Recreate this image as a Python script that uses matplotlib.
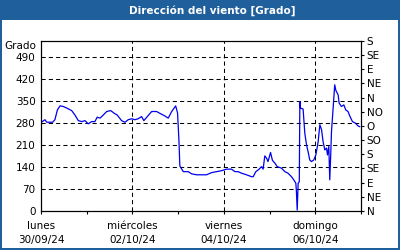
import matplotlib
matplotlib.use("Agg")
import matplotlib.pyplot as plt
from matplotlib.patches import Rectangle

# hours since 30/09/24 00:00 and wind direction in degrees
hours = [0, 2.1, 3, 6.1, 7.3, 8.6, 10, 11.7, 13.5, 16.1, 17.8, 19.6, 21.4, 23.1,
         24.8, 26.6, 28.3, 29.5, 31, 32.7, 34.5, 36.6, 38.3, 40, 42.3, 44.1,
         45.8, 47.6, 49.3, 51, 52.8, 54, 55.8, 58.1, 60.7, 62.8, 65, 66.8,
         68.6, 70.7, 71.7, 72.4, 72.9, 74.7, 77.3, 79.1, 81.7, 86.9, 89.6,
         92.2, 94.8, 97.4, 100, 101.8, 103.5, 105.3, 107.9, 110.5, 111.4,
         112.8, 114.5, 115.8, 116.6, 117.5, 118.4, 119.2, 120.5, 121.5, 122.8,
         124, 126.3, 128, 129.7, 131.5, 132.7, 133.8, 134.1, 134.5, 135,
         135.6, 135.9, 136.2, 137.6, 138.5, 139.4, 140.2, 141.1, 142, 143.2,
         144.3, 145.5, 146.4, 147.3, 148.1, 149, 149.9, 150.4, 151.1, 151.6,
         152.1, 152.5, 153.3, 154.2, 154.8, 156, 156.5, 157.7, 159, 160,
         161.2, 162.1, 163.5, 165.1, 166.5, 167.3]
direction = [281, 290, 282, 282, 290, 321, 334, 332, 327, 319, 305, 287, 284, 287,
             277, 284, 284, 298, 295, 305, 316, 319, 311, 305, 287, 282,
             290, 293, 290, 293, 300, 287, 300, 316, 316, 309, 302, 295,
             316, 334, 311, 226, 143, 125, 125, 118, 115, 115, 122,
             125, 128, 133, 133, 125, 125, 120, 115, 109, 109,
             125, 133, 141, 133, 175, 168, 157, 186, 161, 152,
             141, 136, 125, 120, 109, 99, 88, 61, 3, 88,
             93, 348, 327, 324, 247, 210, 189, 162, 157, 162,
             178, 220, 274, 258, 220, 194, 200, 178, 205, 99,
             178, 252, 321, 401, 383, 369, 343, 332, 337, 321,
             316, 302, 284, 279, 270, 268]

day_ticks = [0, 48, 96, 144]
day_labels = ["lunes\n30/09/24", "miércoles\n02/10/24", "viernes\n04/10/24",
              "domingo\n06/10/24"]
deg_ticks = [0, 70, 140, 210, 280, 350, 420, 490]
compass_ticks = list(range(0, 541, 45))
compass_labels = ["N", "NE", "E", "SE", "S", "SO", "O", "NO", "N", "NE", "E", "SE", "S"]

frame_blue = "#1f5f9b"
fs = 7.5
plt.rcParams["font.family"] = "DejaVu Sans"

W, H = 400, 250
fig = plt.figure(figsize=(4, 2.5), dpi=100, facecolor=frame_blue)
fig.patches.append(Rectangle((2 / W, 2 / H), 396 / W, (H - 22) / H,
                             transform=fig.transFigure, facecolor="white",
                             edgecolor="none", zorder=-10))
fig.text(212 / W, 1 - 10.5 / H, "Dirección del viento [Grado]", color="white",
         fontsize=fs, fontweight="bold", ha="center", va="center")

ax = fig.add_axes([41 / W, 39 / H, 320 / W, 170 / H])
ax.patch.set_alpha(0)
ax.plot(hours, direction, color="#0000ee", lw=0.9)
ax.set_xlim(0, 168)
ax.set_ylim(0, 540)

ax.set_xticks(day_ticks)
ax.set_xticklabels(day_labels, fontsize=fs, linespacing=1.45)
ax.set_xticks([24, 72, 120, 168], minor=True)
ax.tick_params(axis="x", which="both", direction="out", length=2.5, width=0.8, pad=5)
ax.set_yticks(deg_ticks)
ax.set_yticklabels([str(v) for v in deg_ticks], fontsize=fs)
ax.tick_params(axis="y", length=0, pad=4)

ax.grid(True, which="major", color="black", lw=0.75, linestyle=(0, (4, 3)))
for s in ax.spines.values():
    s.set_linewidth(0.8)

ax2 = ax.twinx()
ax2.patch.set_alpha(0)
ax2.set_ylim(0, 540)
ax2.set_yticks(compass_ticks)
ax2.set_yticklabels(compass_labels, fontsize=fs)
ax2.tick_params(axis="y", direction="out", length=2.5, width=0.8, pad=1.5)
for s in ax2.spines.values():
    s.set_linewidth(0.8)

fig.text(36 / W, 1 - 46 / H, "Grado", fontsize=fs, ha="right", va="center")

fig.savefig("out.png", dpi=100, facecolor=frame_blue)
